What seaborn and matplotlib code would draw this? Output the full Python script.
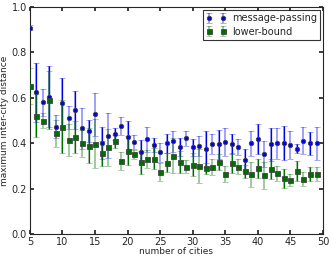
import numpy as np
import matplotlib
matplotlib.use("Agg")
import matplotlib.pyplot as plt
import seaborn as sns

# number of cities
cities = list(range(5, 50))

# message-passing: mean and error
mp_mean = [0.909, 0.624, 0.580, 0.605, 0.473, 0.577, 0.512, 0.546, 0.465, 0.454,
           0.527, 0.402, 0.433, 0.440, 0.476, 0.429, 0.405, 0.363, 0.418, 0.391,
           0.360, 0.399, 0.408, 0.382, 0.421, 0.382, 0.389, 0.376, 0.396, 0.395,
           0.404, 0.395, 0.385, 0.326, 0.399, 0.417, 0.352, 0.396, 0.400, 0.401,
           0.391, 0.375, 0.411, 0.399, 0.399]
mp_err = [0.010, 0.130, 0.060, 0.135, 0.050, 0.110, 0.050, 0.085, 0.090, 0.050,
          0.093, 0.070, 0.100, 0.026, 0.040, 0.070, 0.030, 0.053, 0.055, 0.030,
          0.042, 0.040, 0.047, 0.040, 0.033, 0.037, 0.045, 0.080, 0.045, 0.065,
          0.062, 0.044, 0.035, 0.048, 0.057, 0.066, 0.057, 0.072, 0.068, 0.073,
          0.062, 0.020, 0.060, 0.050, 0.073]

# lower-bound: mean and error
lb_mean = [0.652, 0.521, 0.500, 0.590, 0.444, 0.473, 0.414, 0.426, 0.400, 0.389,
           0.398, 0.355, 0.382, 0.408, 0.322, 0.367, 0.352, 0.316, 0.332, 0.332,
           0.273, 0.314, 0.344, 0.317, 0.297, 0.305, 0.300, 0.290, 0.294, 0.316,
           0.266, 0.314, 0.297, 0.276, 0.264, 0.289, 0.259, 0.286, 0.269, 0.245,
           0.238, 0.279, 0.242, 0.264, 0.264]
lb_err = [0.080, 0.094, 0.035, 0.127, 0.060, 0.117, 0.070, 0.070, 0.060, 0.076,
          0.107, 0.055, 0.080, 0.030, 0.040, 0.063, 0.020, 0.050, 0.040, 0.046,
          0.038, 0.042, 0.077, 0.048, 0.030, 0.050, 0.075, 0.025, 0.035, 0.035,
          0.036, 0.045, 0.034, 0.027, 0.055, 0.040, 0.060, 0.043, 0.033, 0.040,
          0.025, 0.044, 0.030, 0.030, 0.030]

sns.set_theme(style="ticks")
plt.rcParams['font.family'] = ['DejaVu Sans']
plt.rcParams.update({
    'xtick.direction': 'in', 'ytick.direction': 'in',
    'xtick.top': True, 'ytick.right': True,
    'xtick.major.size': 3, 'ytick.major.size': 3,
    'xtick.labelsize': 7, 'ytick.labelsize': 7,
    'axes.labelsize': 6.5, 'legend.fontsize': 7,
})

fig = plt.figure(figsize=(3.32, 2.57), dpi=100)
ax = fig.add_axes([0.09, 0.089, 0.883, 0.884])

x = np.array(cities)
even = x % 2 == 0

series = [
    ("message-passing", mp_mean, mp_err, "#0000f0", "o", 3.2),
    ("lower-bound", lb_mean, lb_err, "#006e00", "s", 3.6),
]
for label, mean, err, col, mk, ms in series:
    mean = np.array(mean)
    err = np.array(err)
    # light bars with caps for every point
    ax.errorbar(x, mean, yerr=err, fmt=mk, color=col, ms=ms,
                mec="#444444", mew=0.6, ecolor=col, elinewidth=1.3,
                capsize=2.5, capthick=1.0, label=label, zorder=3)
    # darker overlay on every other bar
    ax.errorbar(x[even], mean[even], yerr=err[even], fmt="none",
                ecolor=col, elinewidth=0.9, capsize=0, zorder=2)

# lighten the cap/line colors of the full-set bars
for cont in ax.containers:
    if cont.has_yerr and cont.get_label() in ("message-passing", "lower-bound"):
        for coll in cont.lines[2]:
            coll.set_alpha(0.4)
        for cap in cont.lines[1]:
            cap.set_alpha(0.4)

ax.set_xlim(5, 50)
ax.set_ylim(0, 1.0)
ax.set_xticks(range(5, 51, 5))
ax.set_yticks([0.0, 0.2, 0.4, 0.6, 0.8, 1.0])
ax.set_xlabel("number of cities", labelpad=0)
ax.set_ylabel("maximum inter-city distance", labelpad=2)
ax.tick_params(pad=2)
for sp in ax.spines.values():
    sp.set_linewidth(0.8)

leg = ax.legend(loc="upper right", numpoints=2, fancybox=False,
                borderpad=0.35, labelspacing=0.35, handletextpad=0.6,
                borderaxespad=0.3, handlelength=2.0)
leg.get_frame().set_edgecolor("black")
leg.get_frame().set_linewidth(0.8)

fig.savefig("out.png", dpi=100)
